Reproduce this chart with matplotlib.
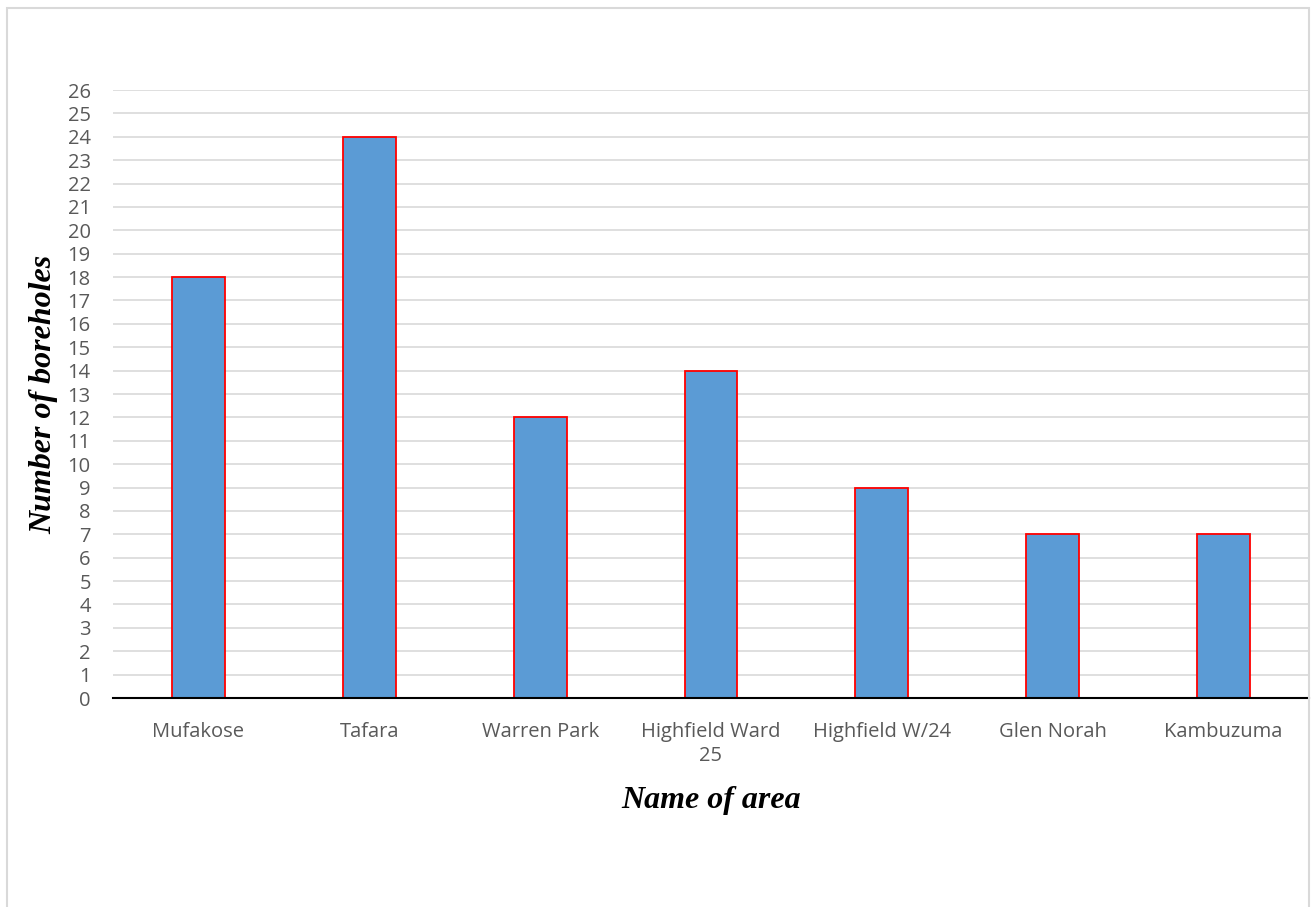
import matplotlib
matplotlib.use('agg')
import matplotlib.pyplot as plt
from matplotlib.patches import Rectangle

areas = ["Mufakose", "Tafara", "Warren Park", "Highfield Ward\n25",
         "Highfield W/24", "Glen Norah", "Kambuzuma"]
boreholes = [18, 24, 12, 14, 9, 7, 7]

fig = plt.figure(figsize=(13.14, 9.07), dpi=100)
W, H = 1314, 907
ax = fig.add_axes([113 / W, 1 - 698 / H, (1309 - 113) / W, (698 - 90) / H])

# outer chart border (bottom runs off the page)
fig.patches.append(Rectangle((7 / W, -0.05), (1309 - 7) / W, 1.05 - 8 / H,
                             transform=fig.transFigure, fill=False,
                             edgecolor='#D9D9D9', linewidth=1.5))

x = range(len(areas))
ax.bar(x, boreholes, width=0.31, color='#5B9BD5', edgecolor='red',
       linewidth=1.3, zorder=3)

ax.set_xlim(-0.5, len(areas) - 0.5)
ax.set_ylim(0, 26)
ax.set_yticks(range(0, 27))
ax.set_xticks(list(x))
ax.set_xticklabels(areas, fontsize=14.5, color='#595959',
                   family='Open Sans', linespacing=1.3)
ax.tick_params(axis='y', labelsize=14.5, labelcolor='#595959', length=0, pad=16)
ax.tick_params(axis='x', length=0, pad=17)
for lab in ax.get_yticklabels():
    lab.set_family('Open Sans')

ax.grid(axis='y', color='#D9D9D9', linewidth=1.2, zorder=0)
for s in ['top', 'right', 'left']:
    ax.spines[s].set_visible(False)
ax.spines['bottom'].set_color('black')
ax.spines['bottom'].set_linewidth(1.5)
ax.spines['bottom'].set_zorder(4)

ax.set_ylabel('Number of boreholes', family='Liberation Serif', fontsize=23,
              fontweight='bold', style='italic', labelpad=7)
ax.set_xlabel('Name of area', family='Liberation Serif', fontsize=23,
              fontweight='bold', style='italic', labelpad=14)

fig.savefig('out.png', dpi=100)
